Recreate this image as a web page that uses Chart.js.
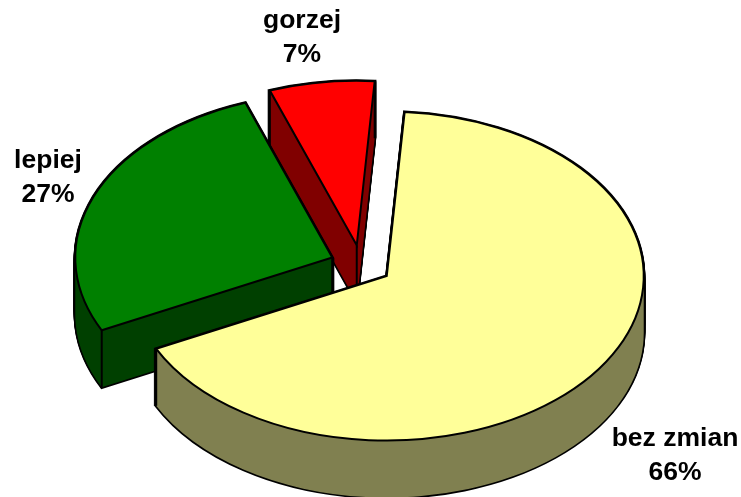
<!DOCTYPE html>
<html>
<head>
<meta charset="utf-8">
<style>
  html, body { margin: 0; padding: 0; background: #fff; }
  #wrap { width: 741px; height: 497px; }
</style>
<script src="https://cdn.jsdelivr.net/npm/chart.js@4/dist/chart.umd.min.js"></script>
</head>
<body>
<div id="wrap"><canvas id="pie" width="741" height="497"></canvas></div>
<script>
// data: wedge sizes, labels as printed on it
const categories = ['bez zmian', 'lepiej', 'gorzej'];
const shares = [66.6, 26.8, 6.6];
const percentLabels = ['66%', '27%', '7%'];
const topColors = ['#FFFF99', '#008000', '#FF0000'];
const sideColors = ['#808050', '#004000', '#800000'];

// 3D look: the flat pie is squashed and stacked on the canvas
const PIE_X = 361;
const PIE_Y = 265;
const SQUASH = 0.64;
const DEPTH = 57;
const EXPLODE = 31;
const RADIUS = 257;
const LINE = 2;

// label centres, one per category
const labelX = [675, 48, 302];
const labelY = [439, 161, 21];
const LABEL_GAP = 34;

const pie3d = {
  id: 'pie3d',
  beforeDatasetsDraw(chart) {
    const { ctx } = chart;
    const arcs = chart.getDatasetMeta(0).data;

    // moves the origin so that the arc is drawn exploded, squashed and dropped by dy
    const place = (arc, dy) => {
      const mid = (arc.startAngle + arc.endAngle) / 2;
      ctx.translate(PIE_X, PIE_Y + dy);
      ctx.scale(1, SQUASH);
      ctx.translate(Math.cos(mid) * EXPLODE - arc.x, Math.sin(mid) * EXPLODE - arc.y);
    };
    // adds the wedge to the current path, the coordinates are fixed when added
    const addWedge = (arc, dy) => {
      ctx.save();
      place(arc, dy);
      ctx.moveTo(arc.x, arc.y);
      ctx.arc(arc.x, arc.y, arc.outerRadius, arc.startAngle, arc.endAngle);
      ctx.closePath();
      ctx.restore();
    };
    // stroked outside the squash, so the line keeps an even width
    const strokeWedge = (arc, dy, width) => {
      ctx.beginPath();
      addWedge(arc, dy);
      ctx.lineWidth = width;
      ctx.stroke();
    };
    // vertical edge under a corner of the slice
    const edge = (arc, angle, r) => {
      const mid = (arc.startAngle + arc.endAngle) / 2;
      const px = PIE_X + Math.cos(mid) * EXPLODE + Math.cos(angle) * r;
      const py = PIE_Y + (Math.sin(mid) * EXPLODE + Math.sin(angle) * r) * SQUASH;
      ctx.beginPath();
      ctx.moveTo(px, py);
      ctx.lineTo(px, py + DEPTH);
      ctx.stroke();
    };

    ctx.save();
    ctx.strokeStyle = '#000';
    ctx.lineJoin = 'miter';

    // back to front
    [2, 1, 0].forEach((i) => {
      const arc = arcs[i];
      for (let dy = DEPTH; dy >= 0; dy--) {
        strokeWedge(arc, dy, LINE * 1.6);
      }

      // one fill for the whole stack, repeated fills left stripes in the colour
      ctx.beginPath();
      for (let dy = DEPTH; dy >= 0; dy -= 0.5) {
        addWedge(arc, dy);
      }
      ctx.fillStyle = sideColors[i];
      ctx.fill();

      ctx.lineWidth = LINE;
      edge(arc, arc.startAngle, arc.outerRadius);
      edge(arc, arc.endAngle, arc.outerRadius);
      edge(arc, arc.startAngle, 0);

      // the top face is the library's own arc, without its squashed border
      const original = arc.options;
      arc.options = Object.assign({}, original, { borderWidth: 0 });
      ctx.save();
      place(arc, 0);
      arc.draw(ctx);
      ctx.restore();
      arc.options = original;
      strokeWedge(arc, 0, LINE);
    });
    ctx.restore();

    ctx.save();
    ctx.fillStyle = '#000';
    ctx.font = 'bold 26.5px "Liberation Sans", Arial, sans-serif';
    ctx.textAlign = 'center';
    ctx.textBaseline = 'middle';
    categories.forEach((name, i) => {
      ctx.fillText(name, labelX[i], labelY[i]);
      ctx.fillText(percentLabels[i], labelX[i], labelY[i] + LABEL_GAP);
    });
    ctx.restore();
    return false;
  },
};

new Chart(document.getElementById('pie'), {
  type: 'pie',
  data: {
    labels: categories,
    datasets: [{
      data: shares,
      backgroundColor: topColors,
      borderColor: '#000',
      borderWidth: LINE,
      radius: RADIUS,
    }],
  },
  options: {
    responsive: false,
    animation: false,
    rotation: 4,
    plugins: {
      legend: { display: false },
      tooltip: { enabled: false },
    },
  },
  plugins: [pie3d],
});
</script>
</body>
</html>
